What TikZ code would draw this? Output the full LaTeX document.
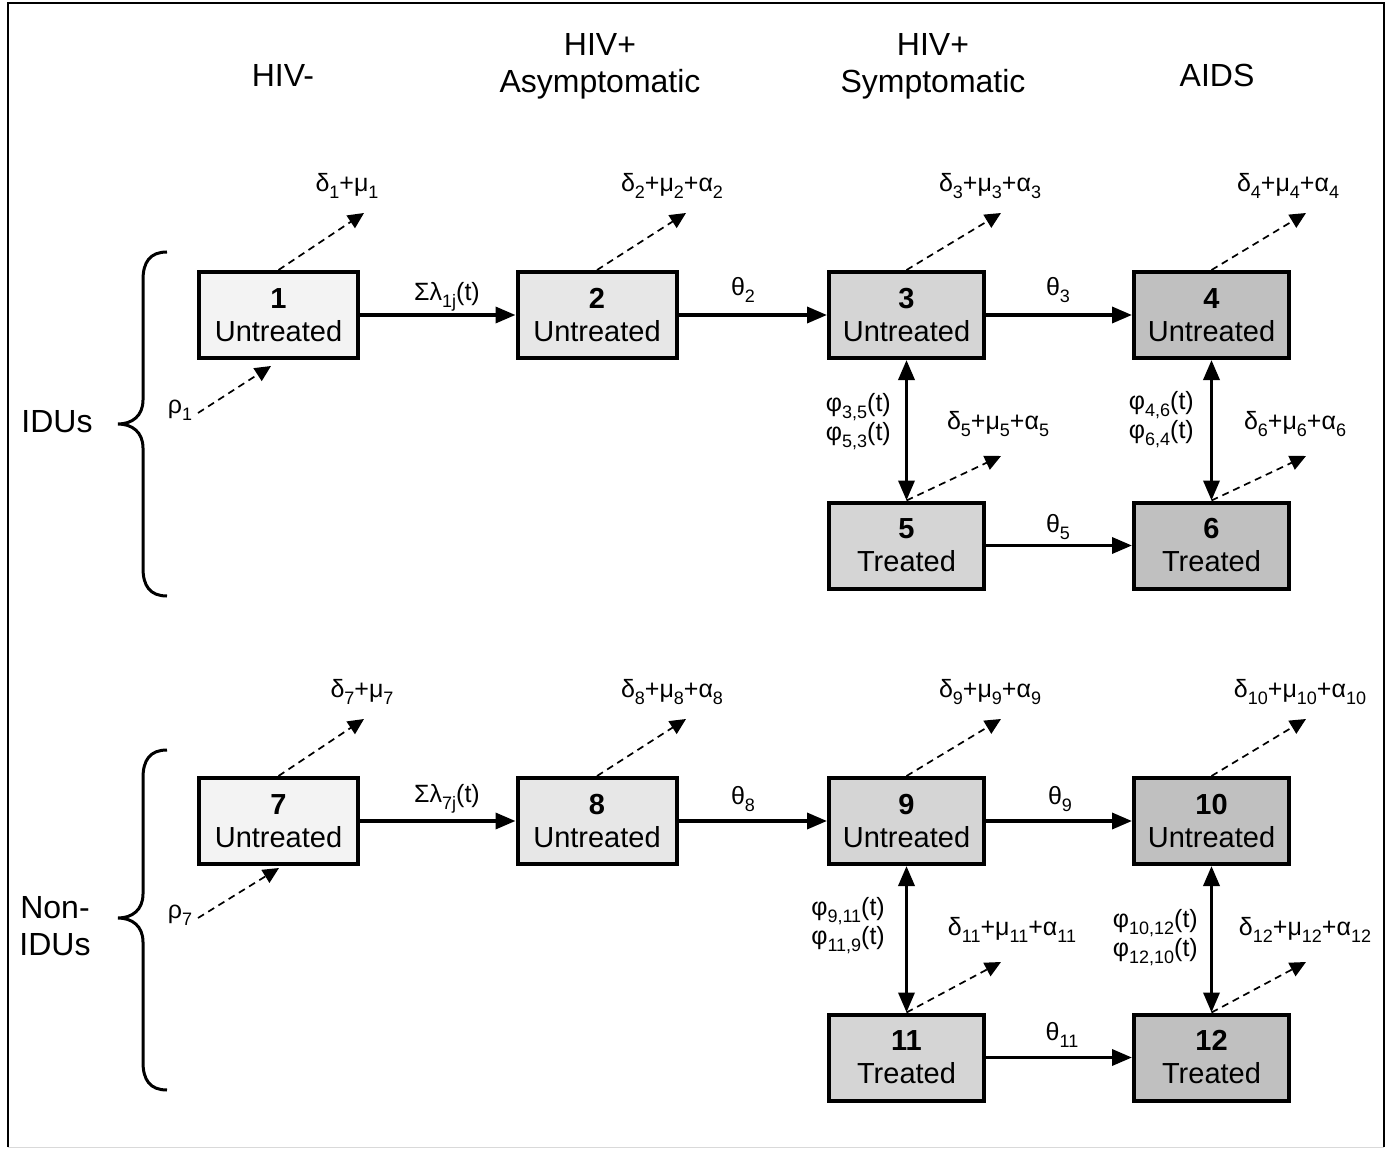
\documentclass[tikz,border=0pt]{standalone}
\usepackage{fontspec}
\setmainfont{Liberation Sans}
\usetikzlibrary{arrows.meta}
\newcommand\sbs[1]{\raisebox{-0.28em}{\fontsize{18}{18}\selectfont #1}}
\definecolor{cA}{HTML}{F3F3F3}
\definecolor{cB}{HTML}{E7E7E7}
\definecolor{cC}{HTML}{D5D5D5}
\definecolor{cD}{HTML}{C0C0C0}
\begin{document}
\begin{tikzpicture}[x=1pt,y=-1pt,
  box/.style={draw, line width=4pt, minimum width=159pt, minimum height=86pt, align=center,
    font=\fontsize{29}{33}\selectfont, inner sep=0pt},
  boxn/.style={box, minimum width=155pt},
  flow/.style={line width=3.5pt, -{Triangle[length=20pt,width=16pt]}},
  both/.style={line width=3.5pt, {Triangle[length=20pt,width=16pt]}-{Triangle[length=20pt,width=16pt]}},
  exit/.style={line width=1.7pt, dash pattern=on 7pt off 5pt, -{Triangle[length=16pt,width=15pt]}},
  lab/.style={font=\fontsize{25}{29}\selectfont, inner sep=0pt},
  head/.style={font=\fontsize{32}{37}\selectfont, align=center, inner sep=0pt}]
\useasboundingbox (0,0) rectangle (1390,1150);
\fill[white] (0,0) rectangle (1390,1150);
\draw[line width=2.5pt] (8,1147) -- (8,3) -- (1384,3) -- (1384,1147);
\draw[line width=1pt, black!15] (8,1147) -- (1384,1147);

% headers
\node[head] (h1) at (283,75) {HIV-};
\node[head] (h2) at (600,66) {HIV+\\Asymptomatic};
\node[head] (h3) at (933,66) {HIV+\\Symptomatic};
\node[head] (h4) at (1217,75) {AIDS};
\node[head] (g1) at (57,422) {IDUs};
\node[head] (g2) at (55,926) {Non-\\IDUs};

% braces
\draw[line width=3pt] (167,252) .. controls (150,252) and (143,262) .. (143,280) -- (143,400)
  .. controls (143,416) and (132,424) .. (118,424) .. controls (132,424) and (143,432) .. (143,448)
  -- (143,568) .. controls (143,586) and (150,596) .. (167,596);
\draw[line width=3pt] (167,750) .. controls (150,750) and (143,760) .. (143,778) -- (143,894)
  .. controls (143,910) and (132,918) .. (118,918) .. controls (132,918) and (143,926) .. (143,942)
  -- (143,1062) .. controls (143,1080) and (150,1090) .. (167,1090);

% boxes IDUs
\node[box, fill=cA] (b1) at (278.5,315) {\textbf{1}\\Untreated};
\node[box, fill=cB] (b2) at (597,315) {\textbf{2}\\Untreated};
\node[boxn, fill=cC] (b3) at (906.5,315) {\textbf{3}\\Untreated};
\node[boxn, fill=cD] (b4) at (1211.5,315) {\textbf{4}\\Untreated};
\node[boxn, fill=cC] (b5) at (906.5,545.5) {\textbf{5}\\Treated};
\node[boxn, fill=cD] (b6) at (1211.5,545.5) {\textbf{6}\\Treated};
% boxes non-IDUs
\node[box, fill=cA] (b7) at (278.5,821) {\textbf{7}\\Untreated};
\node[box, fill=cB] (b8) at (597,821) {\textbf{8}\\Untreated};
\node[boxn, fill=cC] (b9) at (906.5,821) {\textbf{9}\\Untreated};
\node[boxn, fill=cD] (b10) at (1211.5,821) {\textbf{10}\\Untreated};
\node[boxn, fill=cC] (b11) at (906.5,1057.5) {\textbf{11}\\Treated};
\node[boxn, fill=cD] (b12) at (1211.5,1057.5) {\textbf{12}\\Treated};

% flows
\draw[flow] (b1) -- (b2);
\draw[flow] (b2) -- (b3);
\draw[flow] (b3) -- (b4);
\draw[flow] (b5) -- (b6);
\draw[both] (b3) -- (b5);
\draw[both] (b4) -- (b6);
\draw[flow] (b7) -- (b8);
\draw[flow] (b8) -- (b9);
\draw[flow] (b9) -- (b10);
\draw[flow] (b11) -- (b12);
\draw[both] (b9) -- (b11);
\draw[both] (b10) -- (b12);

\node[lab] (l12) at (447,297) {Σλ\sbs{1j}(t)};
\node[lab] (l23) at (743,290) {θ\sbs{2}};
\node[lab] (l34) at (1058,290) {θ\sbs{3}};
\node[lab] (l56) at (1058,527) {θ\sbs{5}};
\node[lab] (l78) at (447,799) {Σλ\sbs{7j}(t)};
\node[lab] (l89) at (743,799) {θ\sbs{8}};
\node[lab] (l910) at (1060,799) {θ\sbs{9}};
\node[lab] (l1112) at (1062,1035) {θ\sbs{11}};

\node[lab, anchor=east, align=left] (p35) at (891,422) {φ\sbs{3,5}(t)\\φ\sbs{5,3}(t)};
\node[lab, anchor=east, align=left] (p46) at (1194,420) {φ\sbs{4,6}(t)\\φ\sbs{6,4}(t)};
\node[lab, anchor=east, align=left] (p911) at (885,926) {φ\sbs{9,11}(t)\\φ\sbs{11,9}(t)};
\node[lab, anchor=east, align=left] (p1012) at (1198,938) {φ\sbs{10,12}(t)\\φ\sbs{12,10}(t)};

% exits
\coordinate (d1) at (364,213);
\coordinate (d2) at (686,213);
\coordinate (d3) at (1001,213);
\coordinate (d4) at (1306,213);
\coordinate (d5) at (1001,456);
\coordinate (d6) at (1306,456);
\coordinate (d7) at (364,719);
\coordinate (d8) at (686,719);
\coordinate (d9) at (1001,719);
\coordinate (d10) at (1306,719);
\coordinate (d11) at (1001,962);
\coordinate (d12) at (1306,962);
\foreach \i in {1,...,12} {\draw[exit] (b\i.north) -- (d\i);}

\node[lab] (e1) at (347,186) {δ\sbs{1}+μ\sbs{1}};
\node[lab] (e2) at (672,186) {δ\sbs{2}+μ\sbs{2}+α\sbs{2}};
\node[lab] (e3) at (990,186) {δ\sbs{3}+μ\sbs{3}+α\sbs{3}};
\node[lab] (e4) at (1288,186) {δ\sbs{4}+μ\sbs{4}+α\sbs{4}};
\node[lab] (e5) at (998,424) {δ\sbs{5}+μ\sbs{5}+α\sbs{5}};
\node[lab] (e6) at (1295,424) {δ\sbs{6}+μ\sbs{6}+α\sbs{6}};
\node[lab] (e7) at (362,692) {δ\sbs{7}+μ\sbs{7}};
\node[lab] (e8) at (672,692) {δ\sbs{8}+μ\sbs{8}+α\sbs{8}};
\node[lab] (e9) at (990,692) {δ\sbs{9}+μ\sbs{9}+α\sbs{9}};
\node[lab] (e10) at (1300,692) {δ\sbs{10}+μ\sbs{10}+α\sbs{10}};
\node[lab] (e11) at (1012,930) {δ\sbs{11}+μ\sbs{11}+α\sbs{11}};
\node[lab] (e12) at (1305,930) {δ\sbs{12}+μ\sbs{12}+α\sbs{12}};

% recruitment
\node[lab] (r1) at (180,410) {ρ\sbs{1}};
\node[lab] (r7) at (180,915) {ρ\sbs{7}};
\coordinate (r1s) at (198,413);
\coordinate (r1e) at (271,366);
\coordinate (r7s) at (198,918);
\coordinate (r7e) at (279,868);
\draw[exit] (r1s) -- (r1e);
\draw[exit] (r7s) -- (r7e);
\end{tikzpicture}
\end{document}
